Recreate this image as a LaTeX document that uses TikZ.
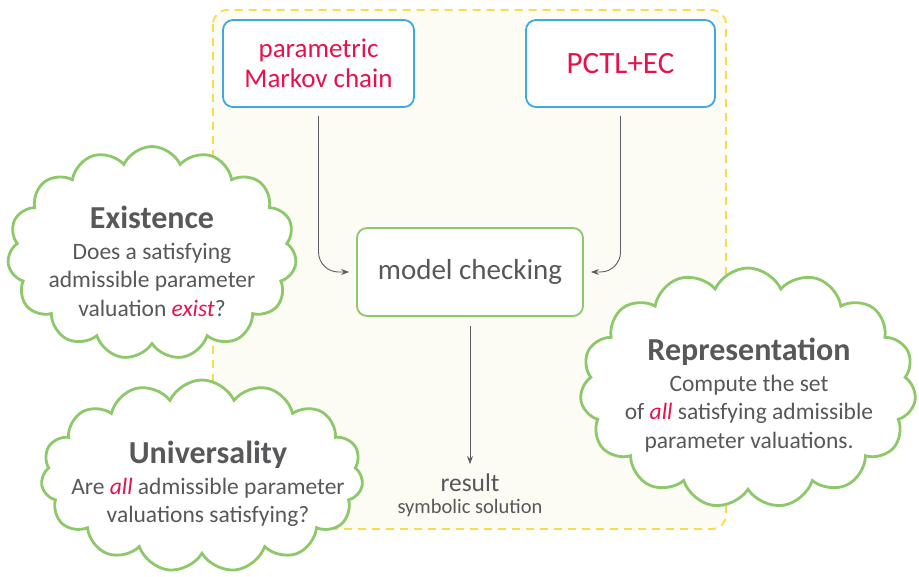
\documentclass[tikz,border=0pt]{standalone}
\usepackage{fontspec}
\setmainfont{Carlito}
\usetikzlibrary{shapes.symbols,arrows.meta}
\definecolor{txtgray}{HTML}{58585A}
\definecolor{hired}{HTML}{E5124C}
\definecolor{boxblue}{HTML}{3BAAE2}
\definecolor{boxgreen}{HTML}{8DC86A}
\definecolor{frameyellow}{HTML}{F8DC4E}
\definecolor{framefill}{HTML}{FCFBF4}
\definecolor{arrowgray}{HTML}{5E5E60}
\tikzset{
  inputbox/.style={draw=boxblue, line width=1.8pt, rounded corners=10pt, fill=white,
    text=hired, align=center, font=\fontsize{27}{30}\selectfont},
  checkbox/.style={draw=boxgreen, line width=1.8pt, rounded corners=10pt, fill=white,
    text=txtgray, align=center, font=\fontsize{29}{30}\selectfont},
  problem/.style={cloud, cloud puffs=15, cloud puff arc=130, cloud ignores aspect,
    draw=boxgreen, line width=2.8pt, fill=white, inner sep=0pt},
  problemtext/.style={text=txtgray, align=center, inner sep=0pt,
    font=\fontsize{23.5}{28.5}\selectfont},
  flow/.style={draw=arrowgray, line width=0.9pt, -{Stealth[length=8pt,width=6pt]}}
}
\newcommand{\ttl}[1]{{\fontsize{32}{32}\selectfont\bfseries #1}}
\newcommand{\hlword}[1]{\textcolor{hired}{\itshape #1}}
\begin{document}
\begin{tikzpicture}[x=1pt,y=-1pt]
  \useasboundingbox (0,0) rectangle (919,577);
  % dashed frame around the tool chain
  \draw[frameyellow, fill=framefill, line width=1.8pt, dash pattern=on 8pt off 6pt,
        rounded corners=14pt] (213,10) rectangle (726,529);

  % inputs
  \node[inputbox, minimum width=191pt, minimum height=87pt] (pmc) at (318.5,63.5)
    {parametric\\Markov chain};
  \node[inputbox, minimum width=189pt, minimum height=87pt,
        font=\fontsize{31}{32}\selectfont] (pctl) at (620.5,63.5) {PCTL+EC};

  % model checker
  \node[checkbox, minimum width=226pt, minimum height=88pt] (mc) at (470,272)
    {model checking};

  % output
  \node[text=txtgray, inner sep=0pt, anchor=base, font=\fontsize{25.5}{28}\selectfont]
    (res) at (470,491) {result};
  \node[text=txtgray, inner sep=0pt, anchor=base, font=\fontsize{20.5}{24}\selectfont]
    (sol) at (470,513) {symbolic solution};

  % connectors
  \draw[flow, rounded corners=20pt, shorten <=8pt, shorten >=7pt] (pmc.south) |- (mc.west);
  \draw[flow, rounded corners=20pt, shorten <=8pt, shorten >=7pt] (pctl.south) |- (mc.east);
  \draw[flow, shorten <=9pt, shorten >=9pt] (mc.south) -- (res.north);

  % problem clouds
  \node[problem, minimum width=289pt, minimum height=213pt] (exist) at (152,253) {};
  \node[problemtext] (existtxt) at (152,261)
    {\ttl{Existence}\\[2.5pt]Does a satisfying\\admissible parameter\\valuation \hlword{exist}?};
  \node[problem, minimum width=336pt, minimum height=240pt] (repr) at (748,388) {};
  \node[problemtext] (reprtxt) at (749,395)
    {\ttl{Representation}\\[2.5pt]Compute the set\\of \hlword{all} satisfying admissible\\parameter valuations.};
  \node[problem, minimum width=322pt, minimum height=192pt] (univ) at (202,476) {};
  \node[problemtext] (univtxt) at (208,484)
    {\ttl{Universality}\\[2.5pt]Are \hlword{all} admissible parameter\\valuations satisfying?};
\end{tikzpicture}
\end{document}
